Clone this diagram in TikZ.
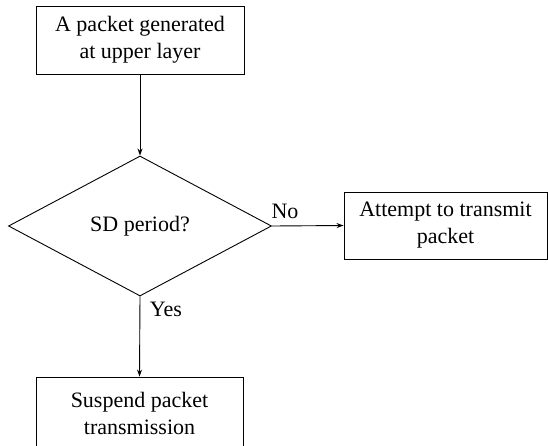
\documentclass[tikz,border=0pt]{standalone}
\usepackage{fontspec}
\setmainfont{Liberation Serif}
\usetikzlibrary{shapes.geometric,arrows.meta}
\begin{document}
\begin{tikzpicture}[x=1pt,y=-1pt,
  every node/.style={font=\fontsize{22}{27}\selectfont},
  procbox/.style={draw,line width=0.9pt,rectangle,inner sep=0pt,align=center},
  decision/.style={draw,line width=0.9pt,diamond,inner sep=0pt,minimum width=263pt,minimum height=140pt},
  flow/.style={line width=0.9pt,-{Stealth[length=7pt,width=5pt]}},
  lbl/.style={inner sep=0pt}]
\useasboundingbox (0,0) rectangle (548,445);
\node[procbox,minimum width=208pt,minimum height=68pt] (top) at (140,40) {A packet generated\\at upper layer};
\node[decision] (dec) at (140,226) {SD period?};
\node[procbox,minimum width=203pt,minimum height=67pt] (right) at (445.5,225.5) {Attempt to transmit\\packet};
\node[procbox,minimum width=207pt,minimum height=72pt] (bot) at (139.5,413) {Suspend packet\\transmission};
\draw[flow] (top) -- (dec);
\draw[flow] (dec.east) -- (right.west);
\draw[flow] (dec.south) -- (bot.north);
\node[lbl] (no) at (285,211) {No};
\node[lbl] (yes) at (166,309) {Yes};
\end{tikzpicture}
\end{document}
